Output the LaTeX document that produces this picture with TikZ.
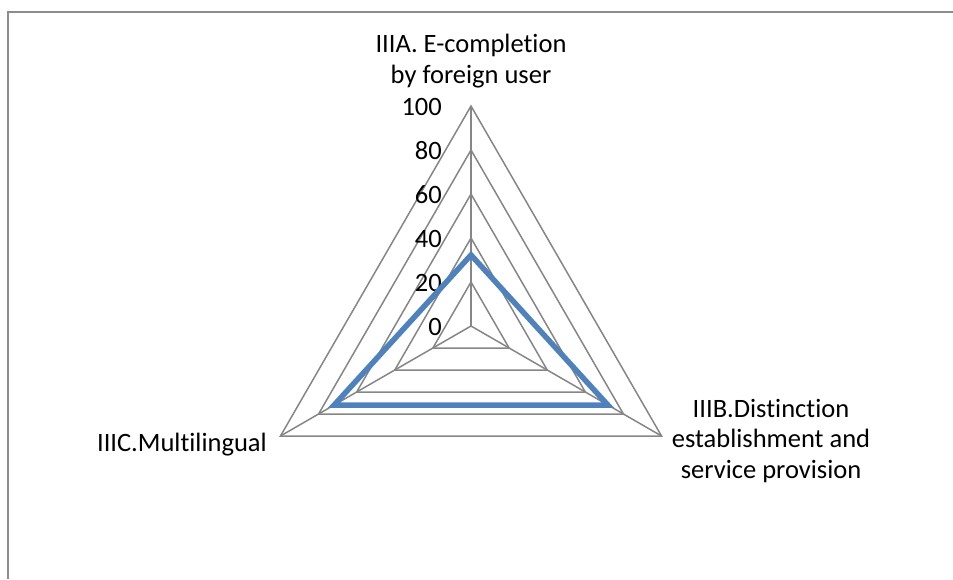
\documentclass[tikz,border=0pt]{standalone}
\usepackage{fontspec}
\setmainfont{Carlito}[Ligatures=NoCommon]
\usetikzlibrary{calc}
\definecolor{gridgray}{HTML}{868686}
\definecolor{seriesblue}{HTML}{4F81BD}
\definecolor{framegray}{HTML}{8C8C8C}
\begin{document}
\begin{tikzpicture}[x=1pt,y=-1pt,
  gridline/.style={draw=gridgray,line width=1.5pt},
  series/.style={draw=seriesblue,line width=5.5pt,line join=miter},
  axislabel/.style={font=\fontsize{26.5}{30.5}\selectfont,align=center,inner sep=0pt},
  ticklabel/.style={font=\fontsize{26.5}{30}\selectfont,anchor=east,inner sep=0pt}]
\useasboundingbox (0,0) rectangle (953,579);
% chart frame: top and left edges
\draw[framegray,line width=2pt] (8,579) -- (8,12) -- (953,12);
% radar geometry: centre and radius of the 100 ring
\coordinate (O) at (471,326);
\def\R{220}
% concentric triangular rings
\foreach \k in {1,...,5}{
  \pgfmathsetmacro{\r}{\R*\k/5}
  \draw[gridline] ($(O)+(0,-\r)$) -- ($(O)+({\r*cos(30)},{\r*sin(30)})$) -- ($(O)+({-\r*cos(30)},{\r*sin(30)})$) -- cycle;
}
% spokes
\coordinate (A) at ($(O)+(0,-\R)$);
\coordinate (B) at ($(O)+({\R*cos(30)},{\R*sin(30)})$);
\coordinate (C) at ($(O)+({-\R*cos(30)},{\R*sin(30)})$);
\draw[gridline] (O) -- (A);
\draw[gridline] (O) -- (B);
\draw[gridline] (O) -- (C);
% tick labels on the vertical axis
\foreach \v [count=\i from 0] in {0,20,40,60,80,100}{
  \node[ticklabel] (t\i) at (442,{326-44*\i+1}) {\v};
}
% data series
\coordinate (pA) at ($(O)+(0,-71)$);
\coordinate (pB) at ($(O)+({158*cos(30)},{158*sin(30)})$);
\coordinate (pC) at ($(O)+({-158*cos(30)},{158*sin(30)})$);
\draw[series] (pA) -- (pB) -- (pC) -- cycle;
% category labels
\node[axislabel] (la) at (471,61) {IIIA. E-completion\\by foreign user};
\node[axislabel] (lb) at (771,441) {IIIB.Distinction\\establishment and\\service provision};
\node[axislabel,anchor=east] (lc) at (267,445) {IIIC.Multilingual};
\end{tikzpicture}
\end{document}
